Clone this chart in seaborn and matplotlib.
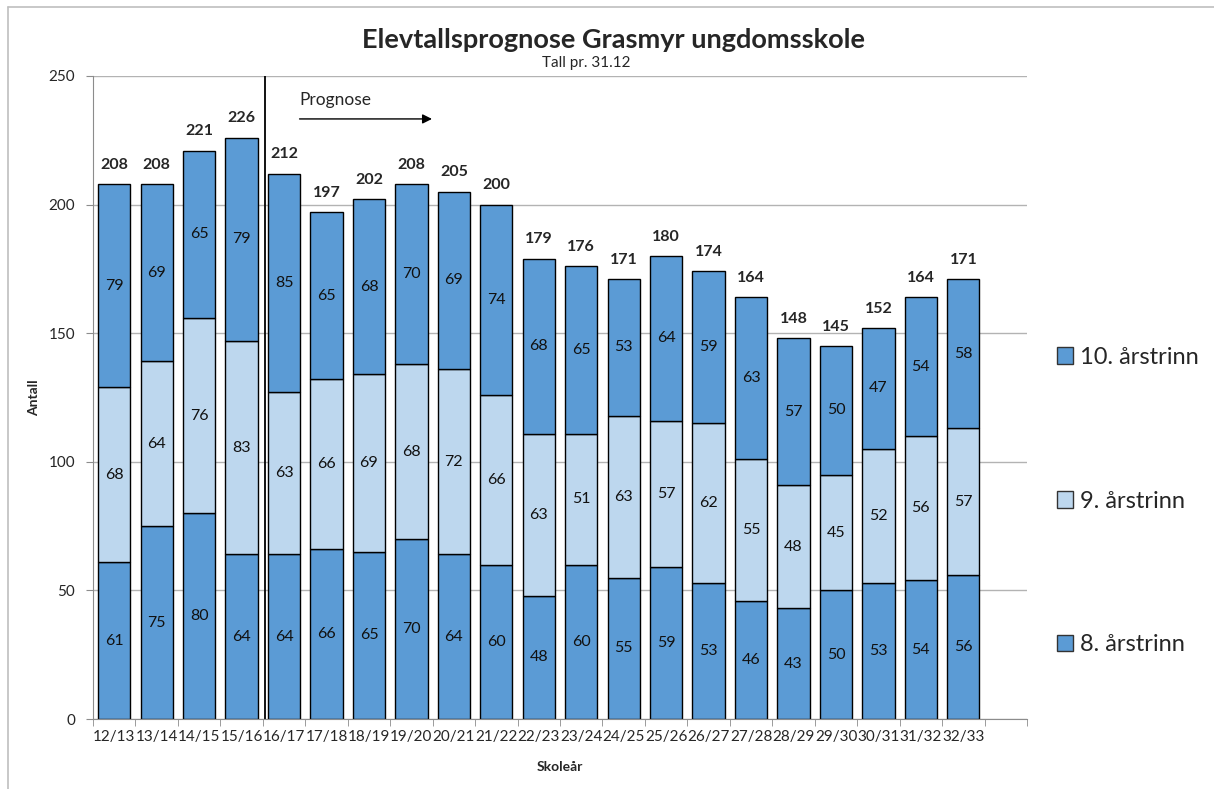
import numpy as np
import pandas as pd
import matplotlib
matplotlib.use('Agg')
import matplotlib.pyplot as plt
from matplotlib.lines import Line2D
from matplotlib.patches import Patch
import seaborn as sns

# data
years = ['12/13', '13/14', '14/15', '15/16', '16/17', '17/18', '18/19', '19/20', '20/21', '21/22',
         '22/23', '23/24', '24/25', '25/26', '26/27', '27/28', '28/29', '29/30', '30/31', '31/32', '32/33']
trinn8 = [61, 75, 80, 64, 64, 66, 65, 70, 64, 60, 48, 60, 55, 59, 53, 46, 43, 50, 53, 54, 56]
trinn9 = [68, 64, 76, 83, 63, 66, 69, 68, 72, 66, 63, 51, 63, 57, 62, 55, 48, 45, 52, 56, 57]
trinn10 = [79, 69, 65, 79, 85, 65, 68, 70, 69, 74, 68, 65, 53, 64, 59, 63, 57, 50, 47, 54, 58]
series_names = ['8. årstrinn', '9. årstrinn', '10. årstrinn']

dark_blue = '#5B9BD5'
light_blue = '#BDD7EE'

sns.set_style('white')
plt.rcParams['font.family'] = ['Lato', 'DejaVu Sans']

df = pd.DataFrame({'year': years, 't8': trinn8, 't9': trinn9, 't10': trinn10})
df['b9'] = df['t8']
df['b10'] = df['t8'] + df['t9']
totals = df['t8'] + df['t9'] + df['t10']

fig = plt.figure(figsize=(12.14, 7.89), dpi=100)
ax = fig.add_axes([0.0766, 0.0887, 0.7694, 0.8150])

layers = [('t8', None, dark_blue), ('t9', 'b9', light_blue), ('t10', 'b10', dark_blue)]
for col, bot, color in layers:
    kw = {}
    if bot is not None:
        kw['bottom'] = df[bot].values
    sns.barplot(data=df, x='year', y=col, color=color, width=0.76, edgecolor='black',
                linewidth=1.0, saturation=1, ax=ax, **kw)

for cont in ax.containers:
    ax.bar_label(cont, label_type='center', fontsize=11.5, color='#111111')

# totals on top
ax.bar_label(ax.containers[-1], labels=[str(t) for t in totals], padding=9,
             fontsize=11.5, fontweight='bold')

ax.set_xlim(-0.5, 21.5)
ax.set_ylim(0, 250)
ax.set_yticks(range(0, 251, 50))
ax.yaxis.grid(True, color='#b3b3b3', linewidth=1)
ax.set_axisbelow(True)
for s in ['top', 'right']:
    ax.spines[s].set_visible(False)
for s in ['left', 'bottom']:
    ax.spines[s].set_color('#8c8c8c')

ax.set_xticks(range(len(years)))
ax.set_xticklabels(years, fontsize=11)
ax.set_xticks(np.arange(-0.5, 22, 1), minor=True)
ax.tick_params(axis='x', which='major', length=0, pad=8)
ax.tick_params(axis='x', which='minor', length=5, color='#8c8c8c', direction='out', bottom=True)
ax.tick_params(axis='y', length=5, color='#8c8c8c', direction='out', left=True, labelsize=11, pad=8)

ax.set_xlabel('Skoleår', fontsize=10, fontweight='bold')
ax.set_ylabel('Antall', fontsize=10, fontweight='bold')
ax.xaxis.set_label_coords(0.5, -0.066)
ax.yaxis.set_label_coords(-0.057, 0.5)

# forecast marker
ax.axvline(3.55, color='black', linewidth=1.3)
ax.annotate('', xy=(7.55, 233.3), xytext=(4.3, 233.3),
            arrowprops=dict(arrowstyle='-|>', color='black', lw=1, mutation_scale=14))
ax.text(4.35, 240.5, 'Prognose', fontsize=12.5, va='center', ha='left')

fig.text(0.505, 0.949, 'Elevtallsprognose Grasmyr ungdomsskole', fontsize=19.5,
         fontweight='bold', ha='center', va='center')
fig.text(0.483, 0.920, 'Tall pr. 31.12', fontsize=11, ha='center', va='center')

handles = [Patch(facecolor=dark_blue, edgecolor='#333333'),
           Patch(facecolor=light_blue, edgecolor='#333333'),
           Patch(facecolor=dark_blue, edgecolor='#333333')]
labels = [series_names[2], series_names[1], series_names[0]]
fig.legend(handles, labels, loc='center left', bbox_to_anchor=(0.853, 0.365), frameon=False,
           fontsize=17, labelspacing=5.2, handlelength=0.7, handleheight=0.7, handletextpad=0.3)

# outer chart border (only top and left visible in the crop)
fig.add_artist(Line2D([8 / 1214, 1.0], [1 - 7 / 789, 1 - 7 / 789], color='#bfbfbf', lw=1.2))
fig.add_artist(Line2D([8 / 1214, 8 / 1214], [0.0, 1 - 7 / 789], color='#bfbfbf', lw=1.2))

fig.savefig('out.png', dpi=100)
